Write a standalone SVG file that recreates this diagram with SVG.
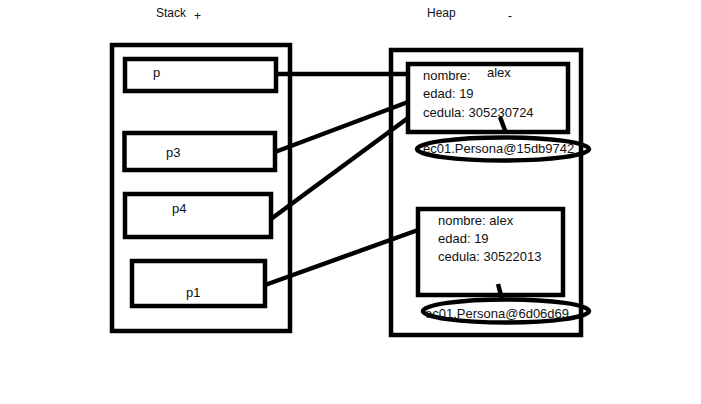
<svg xmlns="http://www.w3.org/2000/svg" width="701" height="404" viewBox="0 0 701 404">
<style>
.box{fill:none;stroke:#000;stroke-width:4.5}
.frame{fill:none;stroke:#000;stroke-width:4.5}
.conn{stroke:#000;stroke-width:4.5;fill:none}
text{font-family:"Liberation Sans",Arial,sans-serif;font-size:13px;fill:#111}
.t12{font-size:12px}
</style>
<rect width="701" height="404" fill="#fff"/>
<g id="titles">
<text class="t12" x="156" y="17">Stack</text>
<text class="t12" x="194" y="20">+</text>
<text class="t12" x="427" y="17">Heap</text>
<text class="t12" x="508" y="20">-</text>
</g>
<g id="stack">
<rect class="frame" x="112" y="45" width="178" height="286"/>
</g>
<g id="heap">
<rect class="frame" x="391" y="50" width="190" height="285"/>
</g>
<g id="connectors">
<line class="conn" x1="276" y1="74" x2="408" y2="74"/>
<line class="conn" x1="275" y1="152" x2="408" y2="102"/>
<line class="conn" x1="271" y1="219" x2="408" y2="118"/>
<line class="conn" x1="265" y1="285" x2="418" y2="230"/>
<line class="conn" x1="500" y1="117" x2="506" y2="133"/>
<line class="conn" x1="498" y1="284" x2="502" y2="299"/>
</g>
<g id="p">
<rect class="box" x="125" y="59" width="151" height="32"/>
<text x="153" y="77">p</text>
</g>
<g id="p3">
<rect class="box" x="124.5" y="133" width="150.5" height="37"/>
<text x="166" y="157">p3</text>
</g>
<g id="p4">
<rect class="box" x="125" y="194" width="146" height="43"/>
<text x="172" y="213">p4</text>
</g>
<g id="p1">
<rect class="box" x="132" y="261" width="133" height="45"/>
<text x="186" y="297">p1</text>
</g>
<g id="obj1">
<rect class="box" x="408" y="64" width="160" height="68"/>
<text x="423" y="80">nombre:</text>
<text x="487" y="77">alex</text>
<text x="423" y="98">edad: 19</text>
<text x="423" y="117">cedula: 305230724</text>
</g>
<g id="ref1">
<ellipse class="box" cx="503" cy="149" rx="86" ry="11.5"/>
<text x="423" y="153">ec01.Persona@15db9742</text>
</g>
<g id="obj2">
<rect class="box" x="418" y="209" width="145" height="86"/>
<text x="438" y="225">nombre: alex</text>
<text x="438" y="243">edad: 19</text>
<text x="438" y="261">cedula: 30522013</text>
</g>
<g id="ref2">
<ellipse class="box" cx="506" cy="311" rx="83" ry="11.5"/>
<text x="425" y="318">ec01.Persona@6d06d69</text>
</g>
</svg>
